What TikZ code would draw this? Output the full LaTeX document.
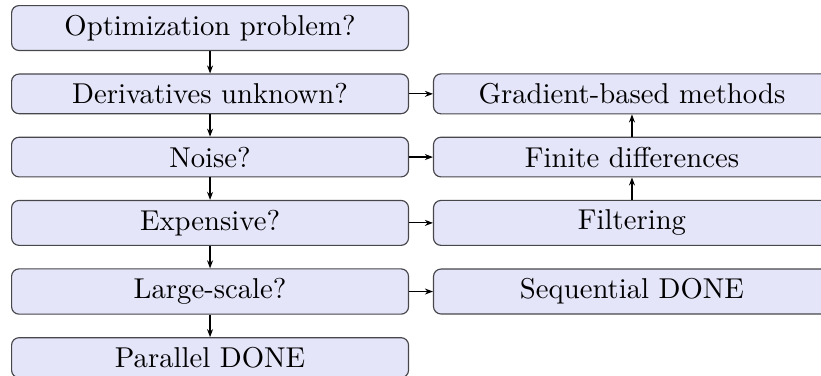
\documentclass[tikz,border=0pt]{standalone}
\usetikzlibrary{positioning,arrows.meta}
\definecolor{boxfill}{RGB}{229,229,250}
\definecolor{boxdraw}{RGB}{70,70,75}
\begin{document}
\begin{tikzpicture}[x=0.3484pt,y=-0.3484pt,
  box/.style={draw=boxdraw,fill=boxfill,rounded corners=2.6pt,minimum width=138.3pt,align=center,inner sep=3.33pt,font=\normalsize},
  arr/.style={-{Stealth[length=2.8pt,width=2.1pt]},line width=0.4pt},
  node distance=7.8pt]
\useasboundingbox (0,0) rectangle (821,376);
\node[box,anchor=north west] (opt) at (11,5) {Optimization problem?};
\node[box,below=of opt] (der) {Derivatives unknown?};
\node[box,below=of der] (noise) {Noise?};
\node[box,below=of noise] (exp) {Expensive?};
\node[box,below=of exp] (large) {Large-scale?};
\node[box,below=of large] (par) {Parallel DONE};
\node[box,right=8.3pt of der] (grad) {Gradient-based methods};
\node[box,right=8.3pt of noise] (fd) {Finite differences};
\node[box,right=8.3pt of exp] (filt) {Filtering};
\node[box,right=8.3pt of large] (seq) {Sequential DONE};
\draw[arr] (opt) -- (der);
\draw[arr] (der) -- (noise);
\draw[arr] (noise) -- (exp);
\draw[arr] (exp) -- (large);
\draw[arr] (large) -- (par);
\draw[arr] (der) -- (grad);
\draw[arr] (noise) -- (fd);
\draw[arr] (exp) -- (filt);
\draw[arr] (large) -- (seq);
\draw[arr] (fd) -- (grad);
\draw[arr] (filt) -- (fd);
\end{tikzpicture}
\end{document}
